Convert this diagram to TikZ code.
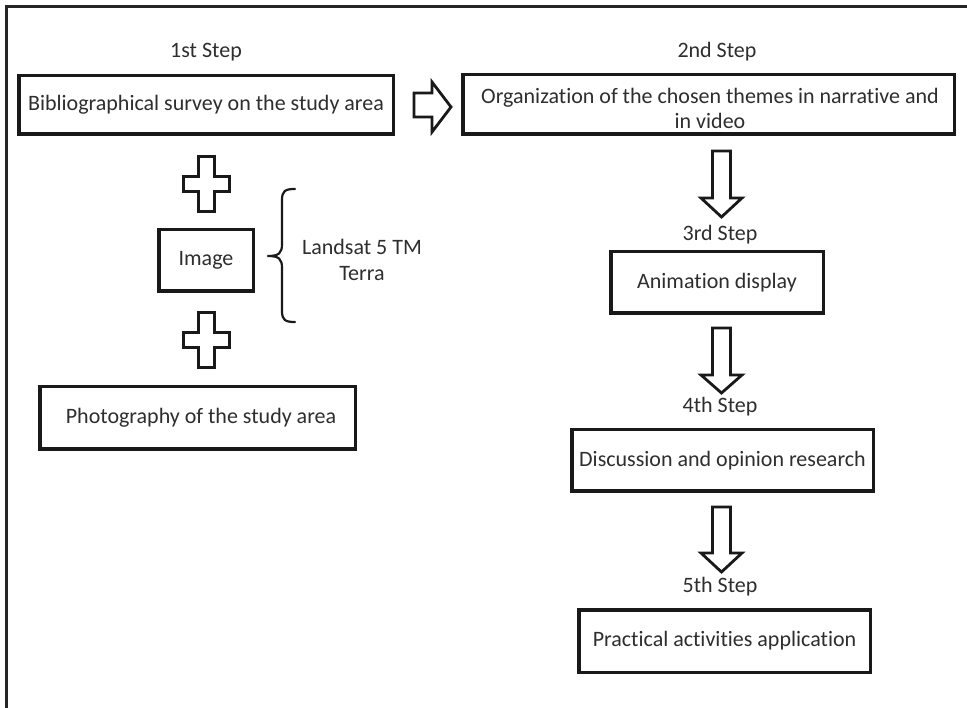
\documentclass[tikz,border=0pt]{standalone}
\usepackage{fontspec}
\setmainfont{Carlito}[Ligatures=NoCommon]
\begin{document}
\begin{tikzpicture}[x=1pt,y=-1pt,
  box/.style={draw=black!90, line width=3.5pt, fill=white, inner sep=0pt, text=black!82, font=\fontsize{22}{25}\selectfont},
  lbl/.style={inner sep=0pt, text=black!82, font=\fontsize{22}{26}\selectfont},
  shp/.style={draw=black!90, line width=2.8pt, fill=white, line join=miter}
]
\useasboundingbox (0,0) rectangle (967,708);
\fill[white] (0,0) rectangle (967,708);
% frame
\coordinate (ftl) at (6,7);
\coordinate (ftr) at (967,7);
\coordinate (fbl) at (6,708);
\draw[black!85, line width=3pt] (fbl) -- (ftl) -- (ftr);

% step labels
\node[lbl] (s1) at (206,52) {1st Step};
\node[lbl] (s2) at (717,52) {2nd Step};
\node[lbl] (s3) at (720,235) {3rd Step};
\node[lbl] (s4) at (720,407) {4th Step};
\node[lbl] (s5) at (720,587) {5th Step};

% boxes
\node[box, minimum width=374.5pt, minimum height=58.5pt] (b1) at (206,105) {Bibliographical survey on the study area};
\node[box, minimum width=491.5pt, minimum height=59.5pt] (b2) at (708.5,104.5) {};
\node[lbl, align=center, font=\fontsize{22}{25}\selectfont] (b2t) at (710,108.5) {Organization of the chosen themes in narrative and\\in video};
\node[box, minimum width=94.5pt, minimum height=61.5pt] (img) at (206,260.5) {Image};
\node[box, minimum width=315.5pt, minimum height=62.5pt] (photo) at (197.5,418) {\hspace*{7pt}Photography of the study area};
\node[box, minimum width=212.5pt, minimum height=61.5pt] (anim) at (717,282.5) {Animation display};
\node[box, minimum width=301.5pt, minimum height=61.5pt] (disc) at (722.5,460.5) {Discussion and opinion research};
\node[box, minimum width=291.5pt, minimum height=62.5pt] (prac) at (724.5,641) {Practical activities application};

% Landsat label
\node[lbl, align=center] (land) at (362,260) {Landsat 5 TM\\Terra};

% right arrow between b1 and b2
\draw[shp] (414,93) -- (432,93) -- (432,82) -- (451,107) -- (432,132) -- (432,117) -- (414,117) -- cycle;

% down arrows
\foreach \t/\h/\e in {151/198/217, 328/375/393, 507/553/572}{
  \draw[shp] (712.5,\t) -- (730.5,\t) -- (730.5,\h) -- (742,\h) -- (721.5,\e) -- (701,\h) -- (712.5,\h) -- cycle;
}

% plus signs
\foreach \cy in {184, 340}{
  \draw[shp] (198.5,\cy-27.5) -- (214.5,\cy-27.5) -- (214.5,\cy-7.5) -- (229.5,\cy-7.5) -- (229.5,\cy+7.5) -- (214.5,\cy+7.5) -- (214.5,\cy+27.5) -- (198.5,\cy+27.5) -- (198.5,\cy+7.5) -- (183.5,\cy+7.5) -- (183.5,\cy-7.5) -- (198.5,\cy-7.5) -- cycle;
}

% brace
\coordinate (brtop) at (295,189);
\coordinate (brbot) at (295,322);
\coordinate (brtip) at (268,256);
\draw[black!90, line width=2.2pt, line cap=round]
  (brtop) .. controls (285,189) and (282,191) .. (282,200)
  -- (282,244) .. controls (282,253) and (279,256) .. (brtip)
  (brtip) .. controls (279,256) and (282,259) .. (282,268)
  -- (282,311) .. controls (282,320) and (285,322) .. (brbot);
\end{tikzpicture}
\end{document}
